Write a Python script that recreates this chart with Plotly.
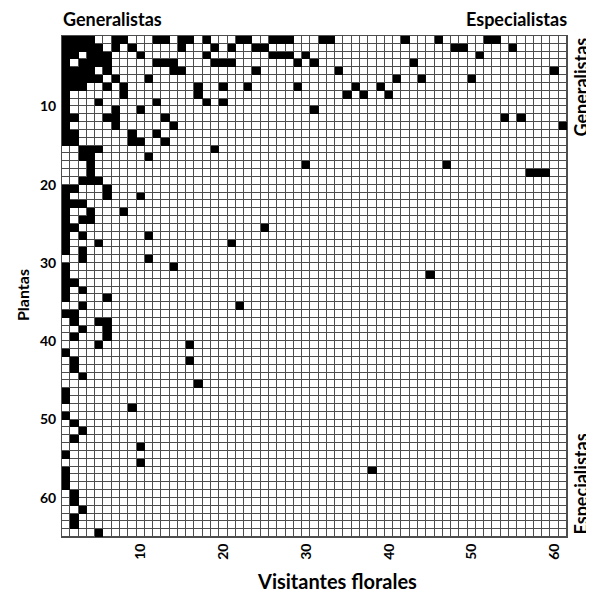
import plotly.graph_objects as go

# ---- data: visitor (column) indices that interact with each plant (row) ----
p01 = [1, 2, 3, 4, 7, 8, 12, 13, 15, 16, 18, 22, 23, 26, 27, 28, 32, 33, 42, 46, 52, 53]
p02 = [1, 2, 3, 4, 5, 7, 9, 15, 19, 21, 24, 25, 48, 49, 55]
p03 = [1, 2, 4, 5, 6, 10, 18, 26, 27, 28, 30, 51]
p04 = [1, 3, 4, 5, 6, 12, 13, 14, 19, 20, 21, 29, 31, 43]
p05 = [1, 2, 3, 4, 6, 14, 15, 24, 34, 60]
p06 = [1, 2, 3, 4, 5, 7, 11, 41, 44, 50]
p07 = [1, 2, 3, 6, 8, 17, 20, 23, 29, 36, 39]
p08 = [1, 8, 17, 35, 37, 40]
p09 = [1, 5, 12, 18, 20]
p10 = [1, 7, 10, 31]
p11 = [1, 2, 6, 7, 13, 54, 56]
p12 = [1, 7, 14, 61]
p13 = [1, 2, 9, 12]
p14 = [1, 2, 9, 10, 13]
p15 = [3, 4, 5, 19]
p16 = [3, 4, 11]
p17 = [4, 30, 47]
p18 = [4, 57, 58, 59]
p19 = [3, 4, 5]
p20 = [1, 2, 6]
p21 = [1, 6, 10]
p22 = [1, 2, 3]
p23 = [1, 4, 8]
p24 = [1, 3, 4]
p25 = [1, 2, 25]
p26 = [1, 3, 11]
p27 = [1, 5, 21]
p28 = [1, 3]
p29 = [3, 11]
p30 = [1, 14]
p31 = [1, 45]
p32 = [1, 2]
p33 = [1, 3]
p34 = [1, 6]
p35 = [3, 22]
p36 = [1, 2]
p37 = [2, 5, 6]
p38 = [3, 6]
p39 = [2, 6]
p40 = [5, 16]
p41 = [1]
p42 = [2, 16]
p43 = [2]
p44 = [3]
p45 = [17]
p46 = [1]
p47 = [1]
p48 = [9]
p49 = [1]
p50 = [2]
p51 = [3]
p52 = [2]
p53 = [10]
p54 = [1]
p55 = [10]
p56 = [1, 38]
p57 = [1]
p58 = [1]
p59 = [2]
p60 = [2]
p61 = [3]
p62 = [2]
p63 = [2]
p64 = [5]

plant_rows = [p01, p02, p03, p04, p05, p06, p07, p08, p09, p10,
              p11, p12, p13, p14, p15, p16, p17, p18, p19, p20,
              p21, p22, p23, p24, p25, p26, p27, p28, p29, p30,
              p31, p32, p33, p34, p35, p36, p37, p38, p39, p40,
              p41, p42, p43, p44, p45, p46, p47, p48, p49, p50,
              p51, p52, p53, p54, p55, p56, p57, p58, p59, p60,
              p61, p62, p63, p64]

n_visitors = 61
n_plants = len(plant_rows)

x_tick_labels = ["10", "20", "30", "40", "50", "60"]
y_tick_labels = ["10", "20", "30", "40", "50", "60"]

# ---- build matrices ----
xs = list(range(1, n_visitors + 1))
ys = list(range(1, n_plants + 1))
z_grid = [[0 for _ in xs] for _ in ys]
z_black = [[(1 if c in row else None) for c in xs] for row in plant_rows]

x_tick_values = [int(t) for t in x_tick_labels]
# in the reference the plant labels sit on the upper edge of their row
y_tick_values = [int(t) - 0.5 for t in y_tick_labels]

FONT = "Lato"
GRID = "#4d4d4d"

fig = go.Figure()
fig.add_trace(go.Heatmap(
    x=xs, y=ys, z=z_grid,
    colorscale=[[0, "white"], [1, "white"]],
    xgap=1, ygap=1, showscale=False, hoverinfo="skip"))
fig.add_trace(go.Heatmap(
    x=xs, y=ys, z=z_black,
    colorscale=[[0, "black"], [1, "black"]],
    showscale=False, zmin=0, zmax=1))

# the page body has an 8px margin, so the figure is drawn 8px smaller
fig.update_layout(
    width=586, height=587,
    margin=dict(l=54, r=27, t=28, b=58),
    paper_bgcolor="white",
    plot_bgcolor=GRID,
    font=dict(family=FONT, size=14, color="black", weight="bold"),
    showlegend=False,
)
fig.update_xaxes(
    range=[0.5, n_visitors + 0.5], tickmode="array",
    tickvals=x_tick_values, ticktext=x_tick_labels, tickangle=-90,
    showgrid=False, zeroline=False, ticks="", automargin=False,
    showline=True, mirror=True, linecolor=GRID, linewidth=1,
    tickfont=dict(family=FONT, size=14, weight="bold"),
)
fig.update_yaxes(
    range=[n_plants + 0.5, 0.5], tickmode="array",
    tickvals=y_tick_values, ticktext=y_tick_labels,
    showgrid=False, zeroline=False, ticks="", automargin=False,
    ticklabelstandoff=2,
    showline=True, mirror=True, linecolor=GRID, linewidth=1,
    tickfont=dict(family=FONT, size=14, weight="bold"),
)

ann_font = dict(family=FONT, size=18, color="black", weight="bold")
fig.add_annotation(text="Plantas", xref="paper", yref="paper",
                   x=0, y=0.483, xanchor="center", yanchor="middle", xshift=-40,
                   textangle=-90, showarrow=False,
                   font=dict(family=FONT, size=16, weight="bold"))
fig.add_annotation(text="Visitantes florales", xref="paper", yref="paper",
                   x=0.545, y=0, xanchor="center", yanchor="top", yshift=-30,
                   showarrow=False, font=dict(family=FONT, size=20, weight="bold"))
fig.add_annotation(text="Generalistas", xref="paper", yref="paper", x=0, y=1,
                   xanchor="left", yanchor="bottom", xshift=-1, yshift=4,
                   showarrow=False, font=ann_font)
fig.add_annotation(text="Especialistas", xref="paper", yref="paper", x=1, y=1,
                   xanchor="right", yanchor="bottom", xshift=2, yshift=4,
                   showarrow=False, font=ann_font)
fig.add_annotation(text="Generalistas", xref="paper", yref="paper", x=1, y=1,
                   xanchor="center", yanchor="top", xshift=13, textangle=-90,
                   showarrow=False, font=ann_font)
fig.add_annotation(text="Especialistas", xref="paper", yref="paper", x=1, y=0,
                   xanchor="center", yanchor="bottom", xshift=13, textangle=-90,
                   showarrow=False, font=ann_font)

fig.write_html("out.html")
